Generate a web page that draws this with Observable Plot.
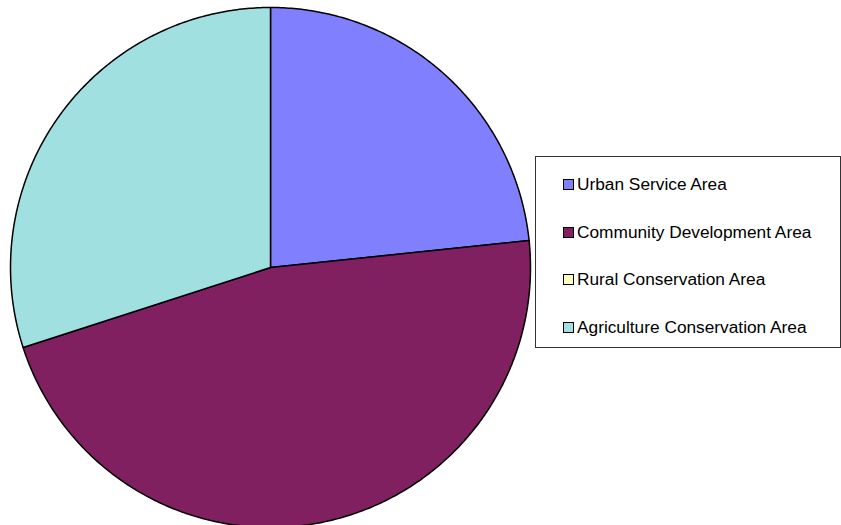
<!DOCTYPE html>
<html>
<head>
<meta charset="utf-8">
<script src="https://cdn.jsdelivr.net/npm/d3@7"></script>
<script src="https://cdn.jsdelivr.net/npm/@observablehq/plot@0.6"></script>
<style>
  html, body { margin: 0; padding: 0; background: #fff; }
  #wrap { position: relative; width: 841px; height: 525px; overflow: hidden; }
  #legend { position: absolute; left: 535px; top: 156px; width: 304px; height: 190px;
    border: 1px solid #333; background: #fff; font-family: "Liberation Sans", Arial, sans-serif; font-size: 17.3px; color: #000; }
  .row { position: absolute; left: 27px; height: 20px; display: flex; align-items: center; }
  .sw { width: 9px; height: 9px; border: 1px solid #000; margin-right: 3px; }
</style>
</head>
<body>
<div id="wrap"><div id="chart"></div><div id="legend"></div></div>
<script>
const categories = ["Urban Service Area", "Community Development Area", "Rural Conservation Area", "Agriculture Conservation Area"];
const shares = [23.35, 46.67, 0, 29.98];
const colors = ["#8080ff", "#802060", "#ffffc0", "#a0e0e0"];

const pie = d3.pie().sort(null).startAngle(0).endAngle(2 * Math.PI)(shares);
const points = [];
pie.forEach((p, i) => {
  if (p.endAngle - p.startAngle <= 0) return;
  const name = categories[i];
  points.push({name, x: 0, y: 0});
  const n = Math.max(2, Math.ceil((p.endAngle - p.startAngle) / 0.01));
  for (let k = 0; k <= n; k++) {
    const a = p.startAngle + (p.endAngle - p.startAngle) * k / n;
    points.push({name, x: Math.sin(a), y: Math.cos(a)});
  }
});

const chart = Plot.plot({
  width: 841,
  height: 525,
  marginLeft: 10,
  marginRight: 311,
  marginTop: 7,
  marginBottom: 0,
  x: {domain: [-1, 1], axis: null},
  y: {domain: [-258 / 260, 1], axis: null},
  color: {domain: categories, range: colors},
  marks: [
    Plot.line(points, {x: "x", y: "y", z: "name", fill: "name", stroke: "black", strokeWidth: 1.5, curve: "linear-closed"})
  ]
});
document.getElementById("chart").appendChild(chart);

const legend = document.getElementById("legend");
const rowTops = [17, 65, 112, 160];
categories.forEach((c, i) => {
  const row = document.createElement("div");
  row.className = "row";
  row.style.top = rowTops[i] + "px";
  const sw = document.createElement("div");
  sw.className = "sw";
  sw.style.background = colors[i];
  const t = document.createElement("span");
  t.textContent = c;
  row.appendChild(sw);
  row.appendChild(t);
  legend.appendChild(row);
});
</script>
</body>
</html>
